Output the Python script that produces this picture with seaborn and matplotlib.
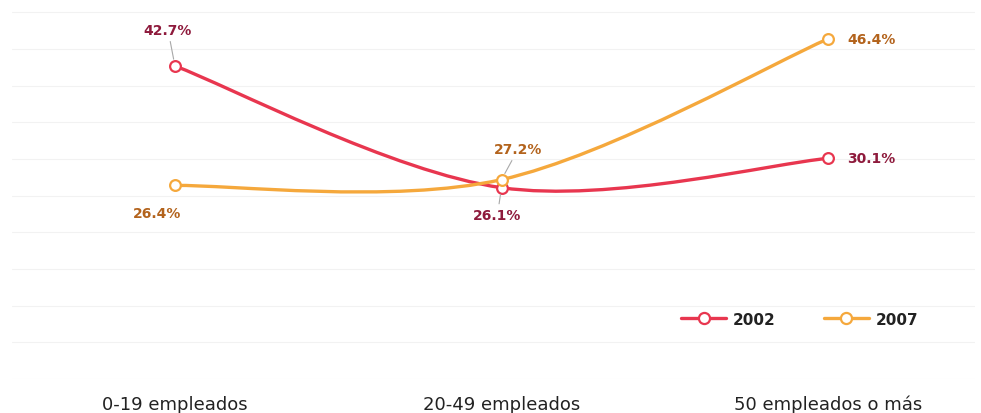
import numpy as np
import pandas as pd
import matplotlib.pyplot as plt
import seaborn as sns
from matplotlib.path import Path
from matplotlib.patches import PathPatch
from matplotlib.lines import Line2D

# datos
categorias = ['0-19 empleados', '20-49 empleados', '50 empleados o más']
anios = ['2002', '2007']
valores_2002 = [42.7, 26.1, 30.1]
valores_2007 = [26.4, 27.2, 46.4]

sns.set_theme(style='white')
plt.rcParams['font.family'] = ['DejaVu Sans']

df = pd.DataFrame({
    'categoria': categorias * 2,
    'anio': ['2002'] * 3 + ['2007'] * 3,
    'valor': valores_2002 + valores_2007,
})
df['pos'] = df['categoria'].map({c: i for i, c in enumerate(categorias)})

colores = {'2002': '#e8364f', '2007': '#f5a83c'}
colores_txt = {'2002': '#8e1a3c', '2007': '#b3631c'}


def curva(xs, ys):
    # curva suave tipo catmull-rom pasada a bezier
    pts = list(zip(xs, ys))
    n = len(pts)
    verts = [pts[0]]
    codes = [Path.MOVETO]
    for i in range(n - 1):
        p0 = pts[max(i - 1, 0)]
        p1 = pts[i]
        p2 = pts[i + 1]
        p3 = pts[min(i + 2, n - 1)]
        c1 = (p1[0] + (p2[0] - p0[0]) / 6, p1[1] + (p2[1] - p0[1]) / 6)
        c2 = (p2[0] - (p3[0] - p1[0]) / 6, p2[1] - (p3[1] - p1[1]) / 6)
        verts += [c1, c2, p2]
        codes += [Path.CURVE4] * 3
    return Path(verts, codes)


fig = plt.figure(figsize=(9.81, 4.14), dpi=100)
ax = fig.add_axes([12 / 981, 34 / 414, 963 / 981, 368 / 414])

for a in anios:
    sub = df[df['anio'] == a]
    ax.add_patch(PathPatch(curva(sub['pos'].tolist(), sub['valor'].tolist()),
                           fill=False, ec=colores[a], lw=2.4, zorder=2,
                           capstyle='round'))
    sns.scatterplot(x=sub['pos'], y=sub['valor'], color='white',
                    edgecolor=colores[a], linewidth=1.6, s=60, zorder=3,
                    legend=False, ax=ax)

# etiquetas de valores (offset en puntos, con linea guia cuando toca)
etiquetas = [
    ('2002', 0, (-5, 26), 'center', True),
    ('2002', 1, (-3, -20), 'center', True),
    ('2002', 2, (14, 0), 'left', False),
    ('2007', 0, (-13, -20), 'center', False),
    ('2007', 1, (12, 22), 'center', True),
    ('2007', 2, (14, 0), 'left', False),
]
for a, i, off, ha, guia in etiquetas:
    v = valores_2002[i] if a == '2002' else valores_2007[i]
    props = dict(arrowstyle='-', color='#a8a8a8', lw=0.8, shrinkA=1, shrinkB=5) if guia else None
    ax.annotate(f'{v:.1f}%', xy=(i, v), xytext=off, textcoords='offset points',
                ha=ha, va='center', fontsize=10, fontweight='bold',
                color=colores_txt[a], arrowprops=props, zorder=4)

ax.set_xlim(-0.499, 2.45)
ax.set_ylim(0, 50.2)
ax.set_yticks(np.arange(0, 51, 5))
ax.set_yticklabels([])
ax.yaxis.grid(True, color='#f2f2f2', lw=0.8)
ax.set_xticks([0, 1, 2])
ax.set_xticklabels(categorias, fontsize=13, color='#222222')
ax.tick_params(axis='x', length=0, pad=21.5)
ax.tick_params(axis='y', length=0)
ax.set_xlabel('')
ax.set_ylabel('')
sns.despine(ax=ax, left=True, bottom=True)
for t in ax.get_xticklabels():
    t.set_verticalalignment('baseline')

handles = [Line2D([0], [0], color=colores[a], lw=2.4, marker='o', markersize=8,
                  markerfacecolor='white', markeredgewidth=1.6) for a in anios]
leg = ax.legend(handles, anios, loc='center', bbox_to_anchor=(0.818, 0.163),
                ncol=2, frameon=False, fontsize=11, handlelength=2.9,
                handletextpad=0.45, columnspacing=3.2)
for t in leg.get_texts():
    t.set_color('#222222')
    t.set_fontweight('bold')

fig.savefig('out.png', dpi=100)
